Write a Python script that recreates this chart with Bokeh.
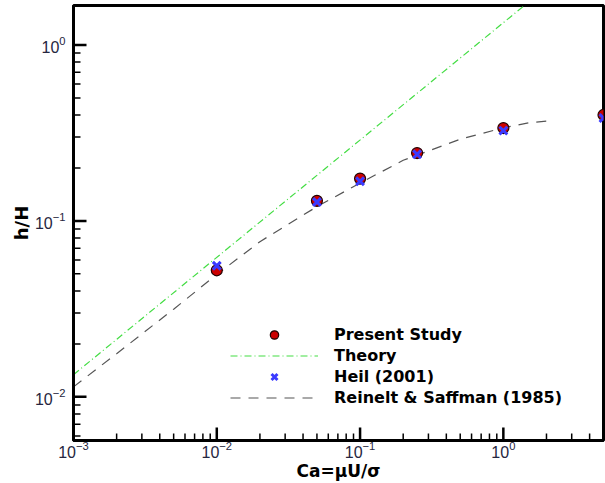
import math
from bokeh.plotting import figure
from bokeh.models import Legend, LegendItem, FixedTicker
from bokeh.embed import file_html
from bokeh.resources import INLINE

# ---- data ----
ca_present = [0.01, 0.05, 0.1, 0.25, 1.0, 5.0]
h_present = [0.0524, 0.130, 0.174, 0.243, 0.337, 0.400]

ca_heil = [0.01, 0.05, 0.1, 0.25, 1.0, 5.0]
h_heil = [0.0556, 0.128, 0.168, 0.239, 0.326, 0.384]

ca_theory = [0.001, 5.0]
h_theory = [0.01337, 3.91]

ca_rs = [0.001, 0.002, 0.005, 0.01, 0.02, 0.05, 0.1, 0.2, 0.5, 1.0, 1.5, 2.0]
h_rs = [0.0114, 0.0176, 0.0315, 0.0496, 0.0762, 0.1205, 0.164, 0.221, 0.291, 0.338, 0.361, 0.369]

x_major = [0.001, 0.01, 0.1, 1.0]
y_major = [0.01, 0.1, 1.0]

labels = ["Present Study", "Theory", "Heil (2001)", "Reinelt & Saffman (1985)"]

X_START, X_END = 1e-3, 5.0
Y_START, Y_END = 0.00565, 1.675

# ---- figure ----
p = figure(width=605, height=483, x_axis_type="log", y_axis_type="log",
           x_range=(X_START, X_END), y_range=(Y_START, Y_END),
           output_backend="svg", toolbar_location=None,
           min_border_left=73, min_border_right=2, min_border_top=5, min_border_bottom=42)

p.background_fill_color = "white"
p.border_fill_color = "white"
p.xgrid.visible = False
p.ygrid.visible = False
p.outline_line_color = "black"
p.outline_line_width = 3

decades = [0.001, 0.01, 0.1, 1.0]
x_minor = [m * d for d in decades for m in range(2, 10) if m * d < X_END]
y_minor = [m * d for d in decades for m in range(2, 10) if Y_START < m * d < Y_END]
p.xaxis.ticker = FixedTicker(ticks=x_major, minor_ticks=x_minor)
p.yaxis.ticker = FixedTicker(ticks=y_major, minor_ticks=y_minor)

for ax in (p.xaxis[0], p.yaxis[0]):
    ax.axis_line_width = 3
    ax.axis_line_color = "black"
    ax.major_tick_in = 0
    ax.major_tick_out = 0
    ax.minor_tick_in = 0
    ax.minor_tick_out = 0
    ax.major_label_text_font = "Liberation Sans"
    ax.major_label_text_font_size = "16px"
    ax.major_label_text_color = "#262640"
    ax.axis_label_text_font = "DejaVu Sans"
    ax.axis_label_text_font_style = "bold"
    ax.axis_label_text_color = "black"

p.xaxis.axis_label = "Ca=\u03bcU/\u03c3"
p.yaxis.axis_label = "h/H"
p.xaxis.axis_label_text_font_size = "17px"
p.yaxis.axis_label_text_font_size = "18px"
p.xaxis.major_label_standoff = 0
p.yaxis.major_label_standoff = 8
p.xaxis.axis_label_standoff = 0
p.yaxis.axis_label_standoff = 0

# inward tick marks (half of each dash is clipped away by the frame)
p.scatter(x_major, [Y_START] * len(x_major), marker="dash", angle=math.pi / 2,
          size=26, line_color="black", line_width=2.5)
p.scatter(x_minor, [Y_START] * len(x_minor), marker="dash", angle=math.pi / 2,
          size=14, line_color="black", line_width=1.5)
p.scatter([X_START] * len(y_major), y_major, marker="dash",
          size=26, line_color="black", line_width=2.5)
p.scatter([X_START] * len(y_minor), y_minor, marker="dash",
          size=14, line_color="black", line_width=1.5)

# ---- glyphs ----
r_theory = p.line(ca_theory, h_theory, line_color="#44dd44", line_width=1.2, line_dash="7 3 1 3")
r_rs = p.line(ca_rs, h_rs, line_color="#555555", line_width=1.2, line_dash="10 8")
r_present = p.scatter(ca_present, h_present, marker="circle", size=11,
                      fill_color="#cc0000", line_color="#220000", line_width=1.2)
r_heil = p.scatter(ca_heil, h_heil, marker="x", size=11,
                   line_color="#3a3aff", line_width=3)

legend = Legend(items=[
    LegendItem(label=labels[0], renderers=[r_present]),
    LegendItem(label=labels[1], renderers=[r_theory]),
    LegendItem(label=labels[2], renderers=[r_heil]),
    LegendItem(label=labels[3], renderers=[r_rs]),
], location=(157, 32))
legend.border_line_color = None
legend.background_fill_alpha = 0
legend.padding = 0
legend.spacing = 0
legend.margin = 0
legend.glyph_width = 88
legend.glyph_height = 21
legend.label_height = 21
legend.label_standoff = 16
legend.label_text_font = "DejaVu Sans"
legend.label_text_font_style = "bold"
legend.label_text_font_size = "16px"
legend.label_text_color = "black"
p.add_layout(legend, "center")

open("out.html", "w").write(file_html(p, INLINE))
